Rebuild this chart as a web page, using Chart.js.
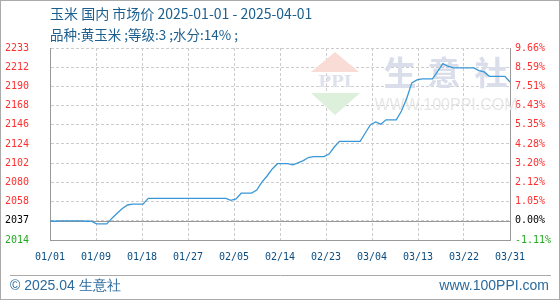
<!DOCTYPE html>
<html>
<head>
<meta charset="utf-8">
<script src="https://cdn.jsdelivr.net/npm/chart.js@4/dist/chart.umd.min.js"></script>
<style>
  body { margin: 0; background: #fff; }
  #wrap { position: relative; width: 560px; height: 300px; }
  canvas { position: absolute; left: 0; top: 0; }
  .title { position: absolute; left: 50px; font-family: "Noto Sans CJK SC", sans-serif; color: #1b5f8f; white-space: pre; }
  .foot { position: absolute; top: 277px; font: 14px "Liberation Sans", sans-serif; color: #2a6a9c; white-space: pre; }
</style>
</head>
<body>
<div id="wrap">
  <canvas id="chart" width="560" height="300"></canvas>
  <div class="title" style="top:3px;font-size:14px">玉米 国内 市场价 2025-01-01 - 2025-04-01</div>
  <div class="title" style="top:24px;font-size:13.5px">品种:黄玉米 ;等级:3 ;水分:14% ;</div>
  <div class="foot" style="left:10px">© 2025.04 生意社</div>
  <div class="foot" style="right:11px">www.100PPI.com</div>
</div>
<script>
// daily price, 01/01 .. 03/31 (index = day)
const prices = [
  2037, 2036.5, 2037, 2037, 2037, 2037, 2037, 2036.5, 2036.5, 2033.5,
  2033.5, 2033.5, 2040, 2045.5, 2051, 2055, 2056, 2056, 2056, 2062.5,
  2062.5, 2062.5, 2062.5, 2062.5, 2062.5, 2062.5, 2062.5, 2062.5, 2062.5, 2062.5,
  2062.5, 2062.5, 2062.5, 2062.5, 2062.5, 2060.3, 2062, 2068.4, 2068.5, 2068.5,
  2072, 2081, 2088, 2096, 2102, 2102, 2102, 2100.6, 2103, 2105.5,
  2109, 2110, 2110, 2110, 2113, 2121, 2127.5, 2127.5, 2127.5, 2127.5,
  2127.5, 2137, 2146.5, 2149.5, 2147, 2152, 2152, 2152, 2162, 2176,
  2194, 2197.5, 2198.5, 2198.5, 2198.5, 2207, 2216, 2213, 2211, 2211,
  2211, 2211, 2211, 2208, 2206.5, 2201.5, 2201.5, 2201.5, 2201.5, 2195
];
const xLabels = ['01/01', '01/09', '01/18', '01/27', '02/05', '02/14', '02/23', '03/04', '03/13', '03/22', '03/31'];
const leftTicks = ['2014', '2037', '2058', '2080', '2102', '2124', '2146', '2168', '2190', '2212', '2233'];
const rightTicks = ['-1.11%', '0.00%', '1.05%', '2.12%', '3.20%', '4.28%', '5.35%', '6.43%', '7.51%', '8.59%', '9.66%'];
const yBase = 2037;
const yStep = 21.86;

const lastDay = prices.length - 1;
const yValues = leftTicks.map((t, i) => yBase + (i - 1) * yStep);
const xValues = xLabels.map((t, i) => i * lastDay / (xLabels.length - 1));

function tickColor(c) {
  if (c.index === 1) return '#000';
  return c.index === 0 ? '#22aa22' : '#ff3030';
}

const tickFont = { family: 'DejaVu Sans Mono', size: 10 };
const gridOpts = { color: '#cccccc', drawTicks: false };
const dash = [3, 2];

const decor = {
  id: 'decor',
  beforeDatasetsDraw(chart) {
    const ctx = chart.ctx;
    ctx.save();
    // watermark logo
    ctx.fillStyle = '#f9dcd6';
    ctx.beginPath(); ctx.moveTo(335, 52); ctx.lineTo(359, 72); ctx.lineTo(311, 72); ctx.closePath(); ctx.fill();
    ctx.fillStyle = '#dcf0dc';
    ctx.beginPath(); ctx.moveTo(311, 93); ctx.lineTo(360, 93); ctx.lineTo(335, 115); ctx.closePath(); ctx.fill();
    ctx.fillStyle = '#dde2ec';
    ctx.font = 'bold 17px "DejaVu Serif"';
    ctx.textAlign = 'center';
    ctx.textBaseline = 'middle';
    ctx.fillText('PPI', 335, 83);
    ctx.fillStyle = '#d9deea';
    ctx.font = 'bold 33px "Noto Sans CJK SC"';
    ctx.fillText('生', 400, 72);
    ctx.fillText('意', 444, 72);
    ctx.fillText('社', 491, 72);
    ctx.fillStyle = '#e6e6e6';
    ctx.font = '16px "Liberation Sans"';
    ctx.fillText('WWW.100PPI.COM', 446, 106);
    // base line
    const y = Math.round(chart.scales.y.getPixelForValue(yBase)) + 0.5;
    ctx.strokeStyle = '#999';
    ctx.lineWidth = 1;
    ctx.beginPath(); ctx.moveTo(chart.chartArea.left, y); ctx.lineTo(chart.chartArea.right, y); ctx.stroke();
    ctx.restore();
  },
  afterDraw(chart) {
    const ctx = chart.ctx;
    ctx.save();
    ctx.strokeStyle = '#aaa';
    ctx.lineWidth = 1;
    ctx.strokeRect(0.5, 0.5, 559, 299);
    ctx.beginPath(); ctx.moveTo(10, 275.5); ctx.lineTo(551, 275.5); ctx.stroke();
    ctx.restore();
  }
};

new Chart(document.getElementById('chart'), {
  type: 'line',
  data: {
    datasets: [{
      data: prices.map((v, i) => ({ x: i, y: v })),
      borderColor: '#3a97d6',
      borderWidth: 1.3,
      pointRadius: 0,
      tension: 0,
      fill: false
    }]
  },
  options: {
    responsive: false,
    animation: false,
    layout: { padding: { left: 5, top: 48, right: 0, bottom: 0 } },
    plugins: { legend: { display: false }, tooltip: { enabled: false } },
    scales: {
      x: {
        type: 'linear',
        min: 0,
        max: lastDay,
        afterBuildTicks: s => { s.ticks = xValues.map(v => ({ value: v })); },
        afterFit: s => { s.height = 60; },
        grid: gridOpts,
        border: { display: true, color: '#999', dash: dash },
        ticks: {
          callback: (v, i) => xLabels[i],
          color: '#0b4d80',
          font: tickFont,
          padding: 11,
          maxRotation: 0,
          autoSkip: false
        }
      },
      y: {
        position: 'left',
        min: yValues[0],
        max: yValues[yValues.length - 1],
        afterBuildTicks: s => { s.ticks = yValues.map(v => ({ value: v })); },
        afterFit: s => { s.width = 45; },
        grid: gridOpts,
        border: { display: true, color: '#999', dash: dash },
        ticks: {
          callback: (v, i) => leftTicks[i],
          color: tickColor,
          font: tickFont,
          crossAlign: 'far',
          autoSkip: false
        }
      },
      y2: {
        position: 'right',
        min: yValues[0],
        max: yValues[yValues.length - 1],
        afterBuildTicks: s => { s.ticks = yValues.map(v => ({ value: v })); },
        afterFit: s => { s.width = 50; },
        grid: { display: false, drawTicks: false },
        border: { display: true, color: '#999' },
        ticks: {
          callback: (v, i) => rightTicks[i],
          color: tickColor,
          font: tickFont,
          padding: 5,
          autoSkip: false
        }
      }
    }
  },
  plugins: [decor]
});
</script>
</body>
</html>
